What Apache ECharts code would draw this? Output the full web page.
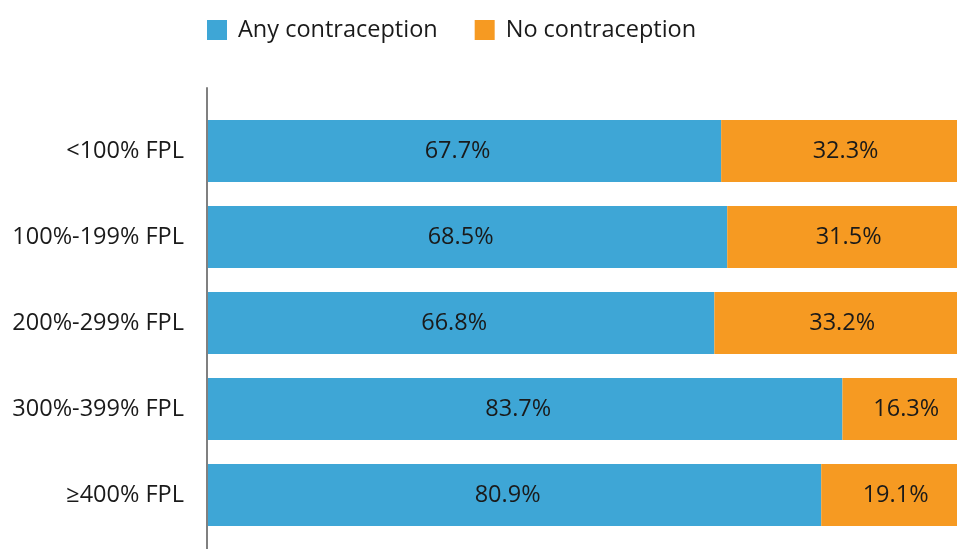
<!DOCTYPE html>
<html>
<head>
<meta charset="utf-8">
<script src="https://cdn.jsdelivr.net/npm/echarts@6/dist/echarts.min.js"></script>
<style>html,body{margin:0;padding:0;background:#fff}#c{width:957px;height:549px}</style>
</head>
<body>
<div id="c"></div>
<script>
const categories = ['<100% FPL', '100%-199% FPL', '200%-299% FPL', '300%-399% FPL', '≥400% FPL'];
const anyContraception = [67.7, 68.5, 66.8, 83.7, 80.9];
const noContraception = [32.3, 31.5, 33.2, 16.3, 19.1];

const chart = echarts.init(document.getElementById('c'));
const font = '"Open Sans", "Noto Sans", sans-serif';
function lbl(dx) {
  return {
    show: true, position: 'inside', offset: [dx, 0], fontSize: 23.5, fontFamily: font, color: '#1a1a1a',
    formatter: p => p.value.toFixed(1) + '%'
  };
}
chart.setOption({
  animation: false,
  textStyle: { fontFamily: font },
  legend: {
    top: 13, left: 202, itemWidth: 20, itemHeight: 20, itemGap: 37,
    icon: 'rect',
    textStyle: { fontSize: 23.5, color: '#1a1a1a', fontFamily: font, padding: [0, 0, 0, 6] },
    data: ['Any contraception', 'No contraception']
  },
  grid: [
    { left: 208, width: 758, top: 108, bottom: 11, outerBoundsMode: 'none' },
    { left: 207, width: 1, top: 88, bottom: 0 }
  ],
  xAxis: [
    { type: 'value', min: 0, max: 100, show: false, gridIndex: 0 },
    { type: 'value', show: false, gridIndex: 1 }
  ],
  yAxis: [
    {
      type: 'category', data: categories, inverse: true, gridIndex: 0,
      axisLine: { show: false }, axisTick: { show: false },
      axisLabel: { fontSize: 23.5, color: '#1a1a1a', margin: 24, fontFamily: font }
    },
    {
      type: 'value', gridIndex: 1, min: 0, max: 1,
      axisLine: { show: true, lineStyle: { color: '#808080', width: 2 } },
      axisTick: { show: false }, axisLabel: { show: false }, splitLine: { show: false }
    }
  ],
  series: [
    { name: 'Any contraception', type: 'bar', stack: 't', barWidth: 62, data: anyContraception,
      itemStyle: { color: '#3ea6d6' }, label: lbl(-7) },
    { name: 'No contraception', type: 'bar', stack: 't', barWidth: 62, data: noContraception,
      itemStyle: { color: '#f69a22' }, label: lbl(2) }
  ]
});
</script>
</body>
</html>
